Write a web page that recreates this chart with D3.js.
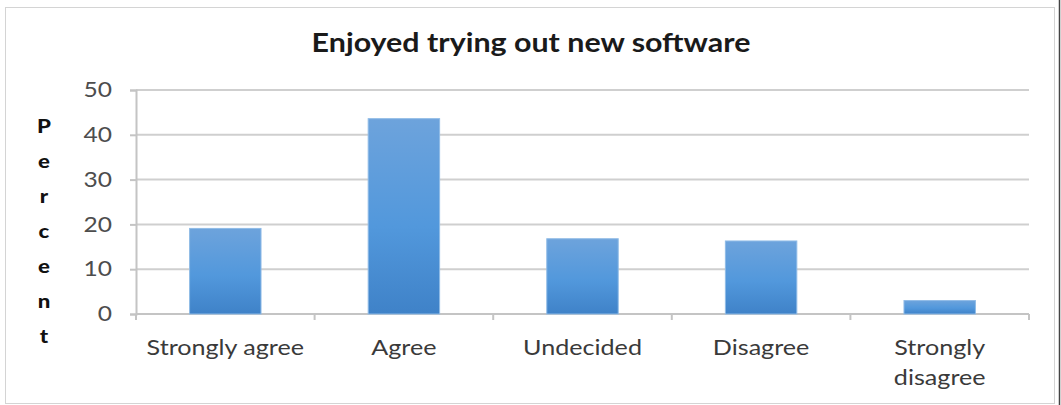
<!DOCTYPE html>
<html>
<head>
<meta charset="utf-8">
<script src="https://cdn.jsdelivr.net/npm/d3@7"></script>
<style>
  html, body { margin: 0; padding: 0; background: #ffffff; }
  svg { display: block; }
</style>
</head>
<body>
<svg id="chart" width="1061" height="405"></svg>
<script>
// Survey responses: share of respondents (%) per answer
const categories = ["Strongly agree", "Agree", "Undecided", "Disagree", "Strongly disagree"];
const percents = [19.1, 43.6, 16.8, 16.3, 3.0];
const yTicks = [0, 10, 20, 30, 40, 50];
const title = "Enjoyed trying out new software";
const yLabel = "Percent";

const FONT = "Lato, 'Open Sans', sans-serif";
const SX = 1.17; // horizontal stretch applied to all text
const svg = d3.select("#chart");
const W = 1061, H = 405;
const margin = { left: 136, right: 32, top: 90, bottom: 91 };

// outer chart frame
svg.append("rect")
  .attr("x", 5.5).attr("y", 7.5)
  .attr("width", 1049).attr("height", 396)
  .attr("fill", "#ffffff")
  .attr("stroke", "#d4d4d4").attr("stroke-width", 1);
svg.append("line")
  .attr("x1", 1059.5).attr("x2", 1059.5).attr("y1", 0).attr("y2", H)
  .attr("stroke", "#444").attr("stroke-width", 1.5);

const x = d3.scaleBand()
  .domain(categories)
  .range([margin.left, W - margin.right])
  .paddingInner(0.6)
  .paddingOuter(0.3);

const y = d3.scaleLinear()
  .domain([0, 50])
  .range([H - margin.bottom, margin.top]);

// bar gradient
const defs = svg.append("defs");
const grad = defs.append("linearGradient")
  .attr("id", "barFill").attr("x1", 0).attr("y1", 0).attr("x2", 0).attr("y2", 1);
grad.append("stop").attr("offset", "0%").attr("stop-color", "#6da3dc");
grad.append("stop").attr("offset", "55%").attr("stop-color", "#5298dc");
grad.append("stop").attr("offset", "100%").attr("stop-color", "#3f82c8");

// horizontal gridlines
svg.append("g")
  .selectAll("line")
  .data(yTicks.filter(d => d > 0))
  .join("line")
  .attr("x1", margin.left).attr("x2", W - margin.right)
  .attr("y1", d => y(d)).attr("y2", d => y(d))
  .attr("stroke", "#cfcfcf").attr("stroke-width", 2);

// y axis
const yAxis = svg.append("g")
  .attr("transform", `translate(${margin.left},0)`)
  .call(d3.axisLeft(y).tickValues(yTicks).tickSize(6).tickPadding(18));
yAxis.select(".domain").attr("stroke", "#c4c4c4").attr("stroke-width", 2);
yAxis.selectAll(".tick line").attr("stroke", "#c4c4c4").attr("stroke-width", 2);
yAxis.selectAll(".tick text")
  .attr("x", -24 / SX)
  .attr("transform", `scale(${SX},1)`)
  .attr("fill", "#4d4d4d")
  .attr("font-family", FONT)
  .attr("font-size", 21);

// x axis baseline with ticks at category boundaries
const step = x.step();
const bounds = d3.range(categories.length + 1).map(i => margin.left + i * step);
svg.append("line")
  .attr("x1", margin.left).attr("x2", W - margin.right)
  .attr("y1", y(0)).attr("y2", y(0))
  .attr("stroke", "#c4c4c4").attr("stroke-width", 2);
svg.append("g")
  .selectAll("line")
  .data(bounds)
  .join("line")
  .attr("x1", d => d).attr("x2", d => d)
  .attr("y1", y(0)).attr("y2", y(0) + 6)
  .attr("stroke", "#c4c4c4").attr("stroke-width", 2);

// bars
svg.append("g")
  .selectAll("rect")
  .data(categories.map((c, i) => ({ c, v: percents[i] })))
  .join("rect")
  .attr("x", d => x(d.c))
  .attr("y", d => y(d.v))
  .attr("width", x.bandwidth())
  .attr("height", d => y(0) - y(d.v))
  .attr("fill", "url(#barFill)")
  .attr("stroke", "#8fbbe6").attr("stroke-width", 1);

// category labels, wrapped when wider than a band step
const catLabels = svg.append("g")
  .attr("font-family", FONT)
  .attr("font-size", 21.5)
  .attr("fill", "#3a3a3a")
  .attr("text-anchor", "middle");
categories.forEach(c => {
  const cx = x(c) + x.bandwidth() / 2;
  const g = catLabels.append("g")
    .attr("transform", `translate(${cx},355) scale(${SX},1)`);
  const t = g.append("text").attr("x", 0).attr("y", 0);
  t.text(c);
  if (t.node().getComputedTextLength() * SX > step * 0.95) {
    const words = c.split(" ");
    t.text(null);
    words.forEach((w, i) => {
      t.append("tspan").attr("x", 0).attr("dy", i === 0 ? 0 : 30).text(w);
    });
  }
});

// title
svg.append("text")
  .attr("transform", `translate(531,52) scale(${SX},1)`)
  .attr("text-anchor", "middle")
  .attr("font-family", FONT)
  .attr("font-weight", "bold")
  .attr("font-size", 26)
  .attr("fill", "#1a1a1a")
  .text(title);

// y axis title, letters stacked vertically
svg.append("g")
  .attr("font-family", FONT)
  .attr("font-weight", "900")
  .attr("font-size", 19)
  .attr("fill", "#111")
  .attr("text-anchor", "middle")
  .selectAll("text")
  .data(yLabel.split(""))
  .join("text")
  .attr("transform", (d, i) => `translate(44,${133 + i * 35}) scale(${SX},1)`)
  .text(d => d);
</script>
</body>
</html>
